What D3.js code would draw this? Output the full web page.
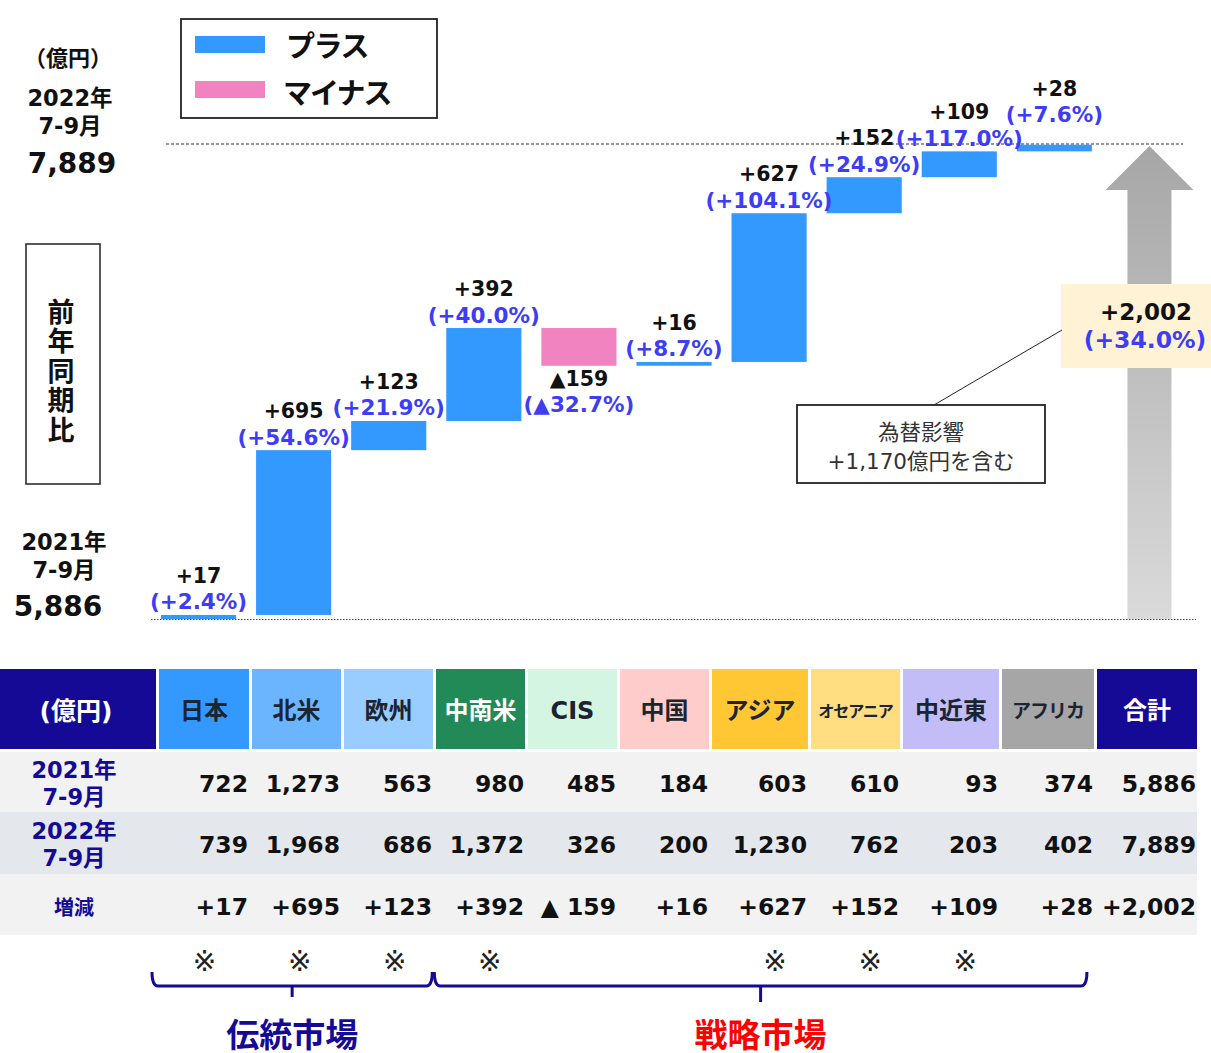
<!DOCTYPE html>
<html>
<head>
<meta charset="utf-8">
<script src="https://cdn.jsdelivr.net/npm/d3@7"></script>
<style>
  body { margin: 0; background: #fff; }
  svg { display: block; font-family: "DejaVu Sans", "Noto Sans CJK JP", sans-serif; }
</style>
</head>
<body>
<div id="chart"></div>
<script>
// data
var regions = ["日本", "北米", "欧州", "中南米", "CIS", "中国", "アジア", "オセアニア", "中近東", "アフリカ"];
var sales2021 = [722, 1273, 563, 980, 485, 184, 603, 610, 93, 374];
var sales2022 = [739, 1968, 686, 1372, 326, 200, 1230, 762, 203, 402];
var change = [17, 695, 123, 392, -159, 16, 627, 152, 109, 28];
var changePct = [2.4, 54.6, 21.9, 40.0, -32.7, 8.7, 104.1, 24.9, 117.0, 7.6];
var strategicMark = [true, true, true, true, false, false, true, true, true, false];
var total2021 = 5886, total2022 = 7889, totalChange = 2002, totalPct = 34.0;
var totalLabel = "合計";

// header styles
var headFill = ["#3399ff", "#6bb5ff", "#99ccff", "#218a57", "#d5f5e3", "#ffcccc", "#ffc733", "#ffdd80", "#c3bdf7", "#a6a6a6", "#140a96"];
var headText = ["#1c2430", "#1c2430", "#1c2430", "#ffffff", "#1c2430", "#1c2430", "#1c2430", "#1c2430", "#1c2430", "#1c2430", "#ffffff"];
var headSize = [24, 24, 24, 24, 24, 24, 24, 16, 24, 19, 24];

var W = 1211, H = 1053;
var blue = "#3399ff", pink = "#f283c1", pctBlue = "#3d3df5", navy = "#140a96";

var svg = d3.select("#chart").append("svg")
    .attr("width", W)
    .attr("height", H);

var fmt = d3.format(",");
function sign(v) { return v < 0 ? "▲" + fmt(-v) : "+" + fmt(v); }
function signPct(v) { return "(" + (v < 0 ? "▲" + (-v).toFixed(1) : "+" + v.toFixed(1)) + "%)"; }

// scales
var cats = regions.concat([totalLabel]);
var x = d3.scaleBand().domain(cats).range([151, 1197]).paddingInner(0.21).paddingOuter(0.105);
var y = d3.scaleLinear().domain([total2021, total2022]).range([619, 144]);

// waterfall steps
var steps = [];
var run = total2021;
regions.forEach(function(r, i) {
    var start = run;
    run += change[i];
    steps.push({ name: r, start: start, end: run, d: change[i], pct: changePct[i] });
});

// reference lines
svg.append("line")
    .attr("x1", 166).attr("x2", 1183)
    .attr("y1", y(total2022)).attr("y2", y(total2022))
    .attr("stroke", "#333").attr("stroke-width", 1).attr("stroke-dasharray", "3,2");
svg.append("line")
    .attr("x1", 151).attr("x2", 1196)
    .attr("y1", y(total2021) + 0.5).attr("y2", y(total2021) + 0.5)
    .attr("stroke", "#444").attr("stroke-width", 1).attr("stroke-dasharray", "1.5,1.5");

// bars
svg.selectAll("rect.bar")
    .data(steps)
    .enter().append("rect")
    .attr("class", "bar")
    .attr("x", function(d) { return x(d.name); })
    .attr("width", x.bandwidth())
    .attr("y", function(d) { return y(Math.max(d.start, d.end)); })
    .attr("height", function(d) { return Math.abs(y(d.start) - y(d.end)); })
    .attr("fill", function(d) { return d.d < 0 ? pink : blue; });

// bar labels
steps.forEach(function(d, i) {
    var cx = x(d.name) + x.bandwidth() / 2;
    var vy, py;
    if (d.d < 0) {
        var b = y(Math.min(d.start, d.end));
        vy = b + 13; py = b + 39;
    } else {
        var t = y(d.end);
        var lift = (i === regions.length - 1) ? 17 : 0;
        vy = t - 39 - lift; py = t - 13 - lift;
    }
    svg.append("text")
        .attr("x", cx).attr("y", vy)
        .attr("text-anchor", "middle").attr("dominant-baseline", "central")
        .attr("font-size", 20.5).attr("font-weight", "bold").attr("fill", "#111")
        .text(sign(d.d));
    svg.append("text")
        .attr("x", cx).attr("y", py)
        .attr("text-anchor", "middle").attr("dominant-baseline", "central")
        .attr("font-size", 21.5).attr("font-weight", "bold").attr("fill", pctBlue)
        .text(signPct(d.pct));
});

// total arrow
var defs = svg.append("defs");
var grad = defs.append("linearGradient")
    .attr("id", "arrowGrad")
    .attr("gradientUnits", "userSpaceOnUse")
    .attr("x1", 0).attr("x2", 0)
    .attr("y1", y(total2022)).attr("y2", y(total2021));
grad.append("stop").attr("offset", "0%").attr("stop-color", "#a6a6a6");
grad.append("stop").attr("offset", "100%").attr("stop-color", "#dadada");

var ax = x(totalLabel) + x.bandwidth() / 2;
var headTop = y(total2022) + 2, headBase = headTop + 44;
svg.append("path")
    .attr("d", "M" + (ax - 22) + "," + y(total2021) +
        "L" + (ax - 22) + "," + headBase +
        "L" + (ax - 44) + "," + headBase +
        "L" + ax + "," + headTop +
        "L" + (ax + 44) + "," + headBase +
        "L" + (ax + 22) + "," + headBase +
        "L" + (ax + 22) + "," + y(total2021) + "Z")
    .attr("fill", "url(#arrowGrad)");

// total label box
svg.append("rect")
    .attr("x", 1061).attr("y", 284).attr("width", 150).attr("height", 84)
    .attr("fill", "#fff2d5");
svg.append("text")
    .attr("x", 1146).attr("y", 312)
    .attr("text-anchor", "middle").attr("dominant-baseline", "central")
    .attr("font-size", 23).attr("font-weight", "bold").attr("fill", "#111")
    .text("+" + fmt(totalChange));
svg.append("text")
    .attr("x", 1145).attr("y", 340)
    .attr("text-anchor", "middle").attr("dominant-baseline", "central")
    .attr("font-size", 23.5).attr("font-weight", "bold").attr("fill", pctBlue)
    .text("(+" + totalPct.toFixed(1) + "%)");

// callout
svg.append("line")
    .attr("x1", 934).attr("y1", 405).attr("x2", 1062).attr("y2", 330)
    .attr("stroke", "#222").attr("stroke-width", 1);
svg.append("rect")
    .attr("x", 797).attr("y", 405).attr("width", 248).attr("height", 78)
    .attr("fill", "#fff").attr("stroke", "#222").attr("stroke-width", 1.8);
svg.append("text")
    .attr("x", 921).attr("y", 432)
    .attr("text-anchor", "middle").attr("dominant-baseline", "central")
    .attr("font-size", 21.5).attr("fill", "#333")
    .text("為替影響");
svg.append("text")
    .attr("x", 921).attr("y", 461)
    .attr("text-anchor", "middle").attr("dominant-baseline", "central")
    .attr("font-size", 21.5).attr("fill", "#333")
    .text("+1,170億円を含む");

// legend
svg.append("rect")
    .attr("x", 181).attr("y", 19).attr("width", 256).attr("height", 99)
    .attr("fill", "#fff").attr("stroke", "#222").attr("stroke-width", 1.8);
svg.append("rect").attr("x", 195).attr("y", 36).attr("width", 70).attr("height", 17).attr("fill", blue);
svg.append("rect").attr("x", 195).attr("y", 81).attr("width", 70).attr("height", 17).attr("fill", pink);
svg.append("text")
    .attr("x", 286).attr("y", 47).attr("dominant-baseline", "central")
    .attr("font-size", 29).attr("font-weight", "bold").attr("fill", "#111")
    .attr("letter-spacing", -1.5)
    .text("プラス");
svg.append("text")
    .attr("x", 283).attr("y", 94).attr("dominant-baseline", "central")
    .attr("font-size", 29).attr("font-weight", "bold").attr("fill", "#111")
    .attr("letter-spacing", -2)
    .text("マイナス");

// left annotations
function leftText(t, tx, ty, size) {
    svg.append("text")
        .attr("x", tx).attr("y", ty)
        .attr("text-anchor", "middle").attr("dominant-baseline", "central")
        .attr("font-size", size).attr("font-weight", "bold").attr("fill", "#111")
        .text(t);
}
leftText("（億円）", 68, 58, 22);
leftText("2022年", 70, 98, 22.5);
leftText("7-9月", 70, 126, 22.5);
leftText(fmt(total2022), 72, 163, 28);
leftText("2021年", 64, 542, 22.5);
leftText("7-9月", 64, 570, 22.5);
leftText(fmt(total2021), 58, 606, 28);

svg.append("rect")
    .attr("x", 26).attr("y", 244).attr("width", 74).attr("height", 240)
    .attr("fill", "none").attr("stroke", "#222").attr("stroke-width", 1.5);
"前年同期比".split("").forEach(function(c, i) {
    leftText(c, 61, 312 + i * 29.5, 27);
});

// table
var colEdges = [159, 252, 344, 436, 528, 620, 712, 811, 903, 1002, 1097, 1200];
var gap = 3;
var headY = 669, headH = 80;
var rowY = [752, 812, 874], rowH = [60, 62, 61];
var rowFill = ["#f2f2f2", "#e4e8ec", "#f2f2f2"];

svg.append("rect").attr("x", 0).attr("y", headY).attr("width", 156).attr("height", headH).attr("fill", navy);
svg.append("text")
    .attr("x", 76).attr("y", headY + headH / 2 + 2)
    .attr("text-anchor", "middle").attr("dominant-baseline", "central")
    .attr("font-size", 25).attr("font-weight", "bold").attr("fill", "#fff")
    .text("(億円)");

cats.forEach(function(c, i) {
    var x0 = colEdges[i], w = colEdges[i + 1] - colEdges[i] - gap;
    svg.append("rect").attr("x", x0).attr("y", headY).attr("width", w).attr("height", headH).attr("fill", headFill[i]);
    svg.append("text")
        .attr("x", x0 + w / 2).attr("y", headY + headH / 2 + 2)
        .attr("text-anchor", "middle").attr("dominant-baseline", "central")
        .attr("font-size", headSize[i]).attr("font-weight", "bold").attr("fill", headText[i])
        .attr("letter-spacing", headSize[i] < 20 ? -1 : 0)
        .text(c);
});

rowY.forEach(function(ry, r) {
    svg.append("rect").attr("x", 0).attr("y", ry).attr("width", 1197).attr("height", rowH[r]).attr("fill", rowFill[r]);
});

var rowLabels = [["2021年", "7-9月"], ["2022年", "7-9月"], ["増減"]];
rowLabels.forEach(function(lines, r) {
    var cy = rowY[r] + rowH[r] / 2 + 1;
    lines.forEach(function(t, k) {
        svg.append("text")
            .attr("x", 74).attr("y", lines.length === 1 ? cy + 2 : cy - 13 + k * 27)
            .attr("text-anchor", "middle").attr("dominant-baseline", "central")
            .attr("font-size", lines.length === 1 ? 20 : 22.5).attr("font-weight", "bold").attr("fill", navy)
            .text(t);
    });
});

var rows = [
    sales2021.concat([total2021]).map(fmt),
    sales2022.concat([total2022]).map(fmt),
    change.concat([totalChange]).map(function(v) { return v < 0 ? "▲ " + fmt(-v) : "+" + fmt(v); })
];
rows.forEach(function(vals, r) {
    var cy = rowY[r] + rowH[r] / 2 + 2;
    vals.forEach(function(v, i) {
        svg.append("text")
            .attr("x", colEdges[i + 1] - gap - 1).attr("y", cy)
            .attr("text-anchor", "end").attr("dominant-baseline", "central")
            .attr("font-size", 23.5).attr("font-weight", "bold").attr("fill", "#111")
            .text(v);
    });
});

// markers and brackets
regions.forEach(function(r, i) {
    if (!strategicMark[i]) return;
    svg.append("text")
        .attr("x", x(r) + x.bandwidth() / 2 + 6).attr("y", 961)
        .attr("text-anchor", "middle").attr("dominant-baseline", "central")
        .attr("font-size", 28).attr("fill", "#222")
        .text("※");
});

var bl0 = x(regions[0]) - 9, bl1 = x(regions[2]) + x.bandwidth() + 6;
var br0 = bl1 + 2, br1 = x(regions[9]) + x.bandwidth() - 5;
var bTop = 972, bY = 986;
function bracket(a, b, tickLen) {
    var m = (a + b) / 2;
    svg.append("path")
        .attr("d", "M" + a + "," + bTop + "Q" + a + "," + bY + " " + (a + 6) + "," + bY +
            "L" + (b - 6) + "," + bY + "Q" + b + "," + bY + " " + b + "," + bTop)
        .attr("fill", "none").attr("stroke", navy).attr("stroke-width", 3);
    svg.append("line")
        .attr("x1", m).attr("x2", m).attr("y1", bY).attr("y2", bY + tickLen)
        .attr("stroke", navy).attr("stroke-width", 3);
    return m;
}
var m1 = bracket(bl0, bl1, 11);
var m2 = bracket(br0, br1, 16);

svg.append("text")
    .attr("x", m1).attr("y", 1035)
    .attr("text-anchor", "middle").attr("dominant-baseline", "central")
    .attr("font-size", 33).attr("font-weight", "bold").attr("fill", navy)
    .text("伝統市場");
svg.append("text")
    .attr("x", m2).attr("y", 1035)
    .attr("text-anchor", "middle").attr("dominant-baseline", "central")
    .attr("font-size", 33).attr("font-weight", "bold").attr("fill", "#ff0000")
    .text("戦略市場");
</script>
</body>
</html>
